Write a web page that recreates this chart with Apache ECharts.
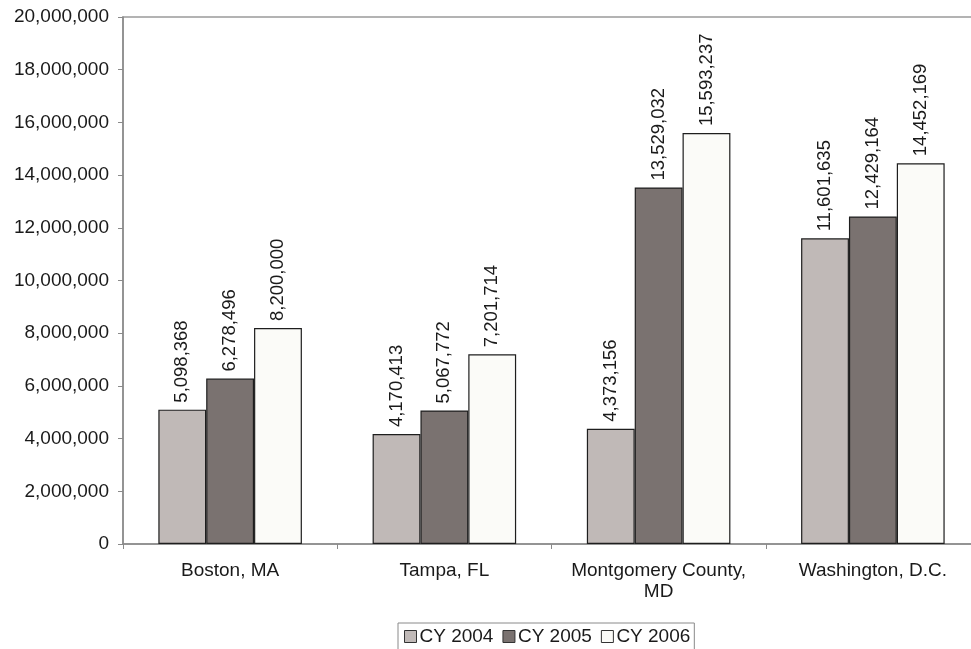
<!DOCTYPE html>
<html>
<head>
<meta charset="utf-8">
<script src="https://cdn.jsdelivr.net/npm/echarts@6/dist/echarts.min.js"></script>
<style>
  html, body { margin: 0; padding: 0; background: #fff; overflow: hidden; }
  #chart { width: 990px; height: 649px; }
</style>
</head>
<body>
<div id="chart"></div>
<script>
// Cities compared
const categories = ['Boston, MA', 'Tampa, FL', 'Montgomery County,\nMD', 'Washington, D.C.'];
// Annual totals per calendar year
const cy2004 = [5098368, 4170413, 4373156, 11601635];
const cy2005 = [6278496, 5067772, 13529032, 12429164];
const cy2006 = [8200000, 7201714, 15593237, 14452169];
const seriesNames = ['CY 2004', 'CY 2005', 'CY 2006'];
const yTicks = { min: 0, max: 20000000, interval: 2000000 };

const fmt = v => Number(v).toLocaleString('en-US');
const font = 'Liberation Sans, Arial, sans-serif';
const colors = ['#c0b9b7', '#7a7270', '#fbfbf8'];

const barLabel = {
  show: true,
  position: 'top',
  rotate: 90,
  align: 'left',
  verticalAlign: 'middle',
  distance: 7,
  fontFamily: font,
  fontSize: 18.5,
  color: '#1a1a1a',
  formatter: p => fmt(p.value)
};

function makeSeries(name, data, color) {
  return {
    name: name,
    type: 'bar',
    data: data,
    barGap: '0%',
    barCategoryGap: '33%',
    itemStyle: { color: color, borderColor: '#1e1e1e', borderWidth: 1.2 },
    label: barLabel,
    emphasis: { disabled: true }
  };
}

const chart = echarts.init(document.getElementById('chart'), null, { renderer: 'canvas' });
chart.setOption({
  animation: false,
  backgroundColor: '#ffffff',
  grid: {
    left: 123, right: 10, top: 17, bottom: 105,
    show: true, borderColor: '#9a9a9a', borderWidth: 1.5, backgroundColor: 'transparent'
  },
  legend: {
    data: seriesNames,
    top: 623,
    left: 398,
    itemGap: 9,
    itemWidth: 12,
    itemHeight: 12,
    icon: 'rect',
    borderColor: '#8a8a8a',
    borderWidth: 1,
    padding: [4, 4, 8, 6],
    textStyle: { fontFamily: font, fontSize: 19, color: '#1a1a1a', padding: [0, 0, 0, -2] },
    itemStyle: { borderColor: '#333', borderWidth: 1 }
  },
  xAxis: {
    type: 'category',
    data: categories,
    axisLine: { lineStyle: { color: '#8a8a8a', width: 1.5 } },
    axisTick: { show: true, alignWithLabel: false, length: 5, lineStyle: { color: '#8a8a8a' } },
    axisLabel: { fontFamily: font, fontSize: 19, color: '#1a1a1a', margin: 16, lineHeight: 21, interval: 0 }
  },
  yAxis: {
    type: 'value',
    min: yTicks.min,
    max: yTicks.max,
    interval: yTicks.interval,
    axisLine: { show: true, lineStyle: { color: '#8a8a8a', width: 1.5 } },
    axisTick: { show: true, length: 5, lineStyle: { color: '#8a8a8a' } },
    splitLine: { show: false },
    axisLabel: { fontFamily: font, fontSize: 19, color: '#1a1a1a', margin: 14, formatter: v => fmt(v) }
  },
  series: [
    makeSeries(seriesNames[0], cy2004, colors[0]),
    makeSeries(seriesNames[1], cy2005, colors[1]),
    makeSeries(seriesNames[2], cy2006, colors[2])
  ]
});
</script>
</body>
</html>
